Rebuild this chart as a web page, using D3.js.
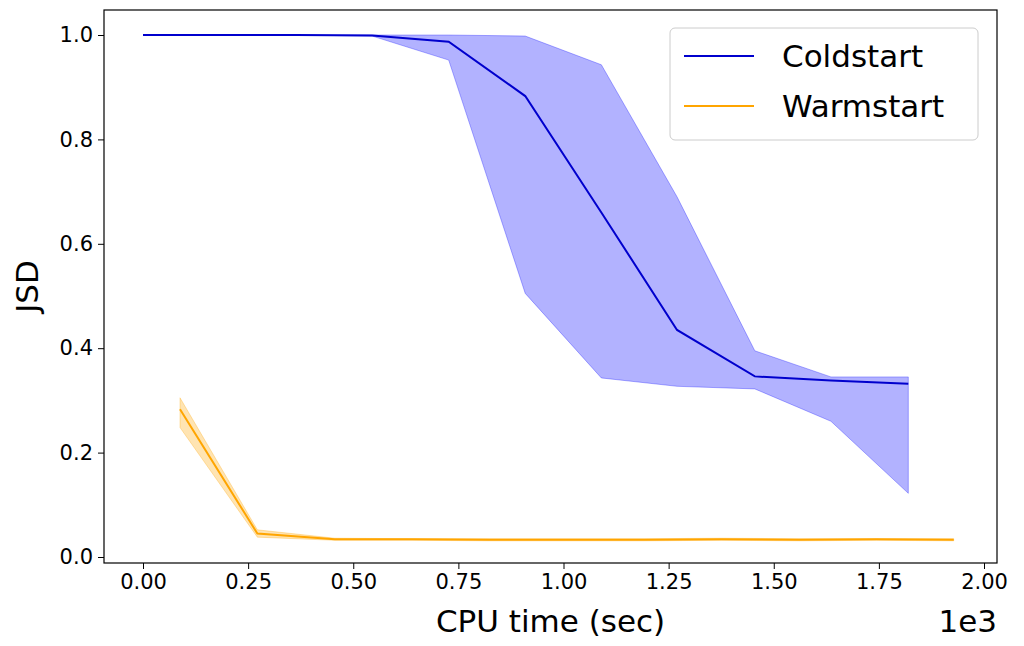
<!DOCTYPE html>
<html><head><meta charset="utf-8">
<script src="https://cdn.jsdelivr.net/npm/d3@7"></script>
<style>body{margin:0;background:#fff;font-family:"DejaVu Sans",sans-serif;}</style>
</head><body><div id="chart"></div>
<script>
// CPU time values in units of 1e3 sec
var coldX = [0, 0.182, 0.364, 0.545, 0.727, 0.909, 1.09, 1.27, 1.455, 1.636, 1.82];
var coldMean = [1.0, 1.0, 1.0, 0.999, 0.987, 0.883, 0.66, 0.435, 0.346, 0.338, 0.332];
var coldHigh = [1.0, 1.0, 1.0, 1.0, 1.0, 0.998, 0.943, 0.69, 0.395, 0.345, 0.345];
var coldLow = [1.0, 1.0, 1.0, 0.998, 0.952, 0.505, 0.343, 0.327, 0.322, 0.26, 0.122];

var warmX = [0.088, 0.272, 0.456, 0.64, 0.824, 1.008, 1.192, 1.376, 1.56, 1.744, 1.928];
var warmMean = [0.283, 0.045, 0.034, 0.034, 0.033, 0.033, 0.033, 0.034, 0.033, 0.034, 0.033];
var warmHigh = [0.305, 0.052, 0.036, 0.035, 0.035, 0.035, 0.035, 0.036, 0.035, 0.035, 0.035];
var warmLow = [0.248, 0.038, 0.032, 0.032, 0.031, 0.031, 0.031, 0.032, 0.031, 0.032, 0.031];

var xTicks = [0, 0.25, 0.5, 0.75, 1.0, 1.25, 1.5, 1.75, 2.0];
var yTicks = [0, 0.2, 0.4, 0.6, 0.8, 1.0];

var W = 1024, H = 646;
var svg = d3.select('#chart').append('svg').attr('width', W).attr('height', H);

// plot box
var pLeft = 104, pRight = 997, pTop = 10, pBottom = 563;
var x = d3.scaleLinear().domain([0, 2]).range([143, 984]);
var y = d3.scaleLinear().domain([0, 1]).range([557, 35]);

function band(xs, lo, hi) {
  var pts = xs.map(function(d, i){ return i; });
  return d3.area().x(function(i){ return x(xs[i]); })
    .y0(function(i){ return y(lo[i]); }).y1(function(i){ return y(hi[i]); })(pts);
}
function line(xs, ys) {
  return d3.line().x(function(d, i){ return x(xs[i]); }).y(function(d){ return y(d); })(ys);
}

svg.append('path').attr('d', band(coldX, coldLow, coldHigh))
  .attr('fill', 'rgba(0,0,255,0.3)').attr('stroke', 'rgba(0,0,255,0.3)');
svg.append('path').attr('d', line(coldX, coldMean))
  .attr('fill', 'none').attr('stroke', '#0000cd').attr('stroke-width', 2);
svg.append('path').attr('d', band(warmX, warmLow, warmHigh))
  .attr('fill', 'rgba(255,165,0,0.3)').attr('stroke', 'rgba(255,165,0,0.3)');
svg.append('path').attr('d', line(warmX, warmMean))
  .attr('fill', 'none').attr('stroke', '#ffa500').attr('stroke-width', 2);

svg.append('rect').attr('x', pLeft).attr('y', pTop).attr('width', pRight - pLeft).attr('height', pBottom - pTop)
  .attr('fill', 'none').attr('stroke', '#000').attr('stroke-width', 1.2);

var xAxis = svg.append('g').attr('transform', 'translate(0,' + pBottom + ')')
  .call(d3.axisBottom(x).tickValues(xTicks).tickFormat(d3.format('.2f')).tickSize(6).tickPadding(5));
var yAxis = svg.append('g').attr('transform', 'translate(' + pLeft + ',0)')
  .call(d3.axisLeft(y).tickValues(yTicks).tickFormat(d3.format('.1f')).tickSize(6).tickPadding(5));
[xAxis, yAxis].forEach(function(a){
  a.select('.domain').remove();
  a.selectAll('text').style('font-size', '21px').style('font-family', 'DejaVu Sans').attr('fill', '#000');
  a.selectAll('line').attr('stroke', '#000');
});

svg.append('text').attr('x', (pLeft + pRight) / 2).attr('y', 632).attr('text-anchor', 'middle')
  .attr('font-size', 31).text('CPU time (sec)');
svg.append('text').attr('x', 997).attr('y', 632).attr('text-anchor', 'end')
  .attr('font-size', 31).text('1e3');
svg.append('text').attr('transform', 'translate(38,' + (pTop + pBottom) / 2 + ') rotate(-90)')
  .attr('text-anchor', 'middle').attr('font-size', 31).text('JSD');

// legend
var lg = svg.append('g').attr('transform', 'translate(670,28)');
lg.append('rect').attr('width', 308).attr('height', 112).attr('rx', 5)
  .attr('fill', '#fff').attr('stroke', '#ccc');
[['Coldstart', '#0000cd'], ['Warmstart', '#ffa500']].forEach(function(d, i){
  var cy = 28 + i * 50;
  lg.append('line').attr('x1', 14).attr('x2', 84).attr('y1', cy).attr('y2', cy)
    .attr('stroke', d[1]).attr('stroke-width', 2);
  lg.append('text').attr('x', 112).attr('y', cy + 11).attr('font-size', 31).text(d[0]);
});
</script>
</body></html>
